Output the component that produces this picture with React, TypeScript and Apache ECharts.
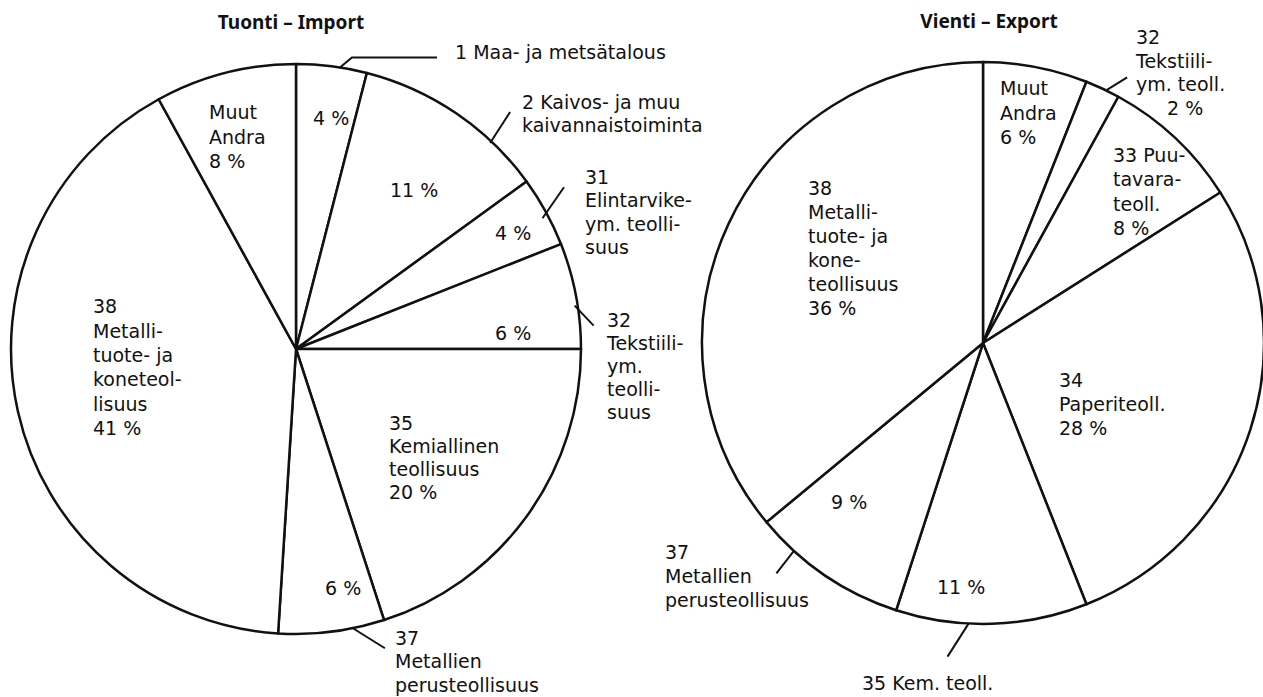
import React, { useEffect, useRef } from "react";
import * as echarts from "echarts";

// ---------- data ----------
const importCategories = [
  "1 Maa- ja metsätalous",
  "2 Kaivos- ja muu kaivannaistoiminta",
  "31 Elintarvike- ym. teollisuus",
  "32 Tekstiili- ym. teollisuus",
  "35 Kemiallinen teollisuus",
  "37 Metallien perusteollisuus",
  "38 Metallituote- ja koneteollisuus",
  "Muut Andra",
];
const importValues = [4, 11, 4, 6, 20, 6, 41, 8];
// label lines shown inside the slice (before the percentage)
const importInnerHead = [
  "",
  "",
  "",
  "",
  "35\nKemiallinen\nteollisuus",
  "",
  "38\nMetalli-\ntuote- ja\nkoneteol-\nlisuus",
  "Muut\nAndra",
];
// label lines shown outside the pie
const importOuterText = [
  "1 Maa- ja metsätalous",
  "2 Kaivos- ja muu\nkaivannaistoiminta",
  "31\nElintarvike-\nym. teolli-\nsuus",
  "32\nTekstiili-\nym.\nteolli-\nsuus",
  "",
  "37\nMetallien\nperusteollisuus",
  "",
  "",
];
const importPctOutside = [false, false, false, false, false, false, false, false];

const exportCategories = [
  "Muut Andra",
  "32 Tekstiili- ym. teoll.",
  "33 Puutavarateoll.",
  "34 Paperiteoll.",
  "35 Kem. teoll.",
  "37 Metallien perusteollisuus",
  "38 Metallituote- ja koneteollisuus",
];
const exportValues = [6, 2, 8, 28, 11, 9, 36];
const exportInnerHead = [
  "Muut\nAndra",
  "",
  "33 Puu-\ntavara-\nteoll.",
  "34\nPaperiteoll.",
  "",
  "",
  "38\nMetalli-\ntuote- ja\nkone-\nteollisuus",
];
const exportOuterText = [
  "",
  "32\nTekstiili-\nym. teoll.",
  "",
  "",
  "35 Kem. teoll.",
  "37\nMetallien\nperusteollisuus",
  "",
];
const exportPctOutside = [false, true, false, false, false, false, false];

// ---------- layout (positions only) ----------
const FONT = "'DejaVu Sans', 'Noto Sans', sans-serif";
const TITLE_FONT = "'Noto Sans', 'DejaVu Sans', sans-serif";
const FONT_SIZE = 19;
const IMPORT_CENTER = [296, 349];
const IMPORT_R = 285;
const EXPORT_CENTER = [983, 343];
const EXPORT_R = 281;

// [x, top, lineHeight]
const importInnerPos: (number[] | null)[] = [
  [313, 106.5, 23],
  [390, 178.5, 23],
  [495, 221.5, 23],
  [495, 321.5, 23],
  [389, 411.5, 23],
  [325, 576.5, 23],
  [93, 294, 24.4],
  [209, 100, 24.5],
];
const importOuterPos: (number[] | null)[] = [
  [455, 40.5, 23],
  [522, 90.5, 23.2],
  [585, 165.5, 23.3],
  [607, 308.5, 23],
  null,
  [395, 626, 23.5],
  null,
  null,
];
const exportInnerPos: (number[] | null)[] = [
  [1000, 76, 24.5],
  null,
  [1113, 143, 24.3],
  [1059, 368, 24],
  [937, 575.5, 23],
  [831, 490.5, 23],
  [808, 176, 24],
];
const exportOuterPos: (number[] | null)[] = [
  null,
  [1136, 25, 23.7],
  null,
  null,
  [862, 671.5, 23],
  [665, 540, 24],
  null,
];

// leader lines: slice index, fraction within slice, radial shift, offsets of following points
const importLeaders = [
  { idx: 0, t: 0.616, dr: 0, pts: [[12, -10], [97, -10]] },
  { idx: 1, t: 0.73, dr: -2, pts: [[20, -31]] },
  { idx: 2, t: 0.56, dr: -6, pts: [[21.5, -31]] },
  { idx: 3, t: 0.59, dr: -3, pts: [[19, 20]] },
  { idx: 5, t: 0.3, dr: 0, pts: [[32, 20]] },
];
const exportLeaders = [
  { idx: 1, t: 0.61, dr: 0, pts: [[21, -13]] },
  { idx: 4, t: 0.62, dr: 0, pts: [[-21, 33]] },
  { idx: 5, t: 0.75, dr: 0, pts: [[-17.5, 22.5]] },
];

function pct(v: number) {
  return v + " %";
}

function innerTexts(head: string[], values: number[], pctOut: boolean[]) {
  return values.map((v, i) => {
    if (pctOut[i]) return head[i];
    return head[i] ? head[i] + "\n" + pct(v) : pct(v);
  });
}
function outerTexts(text: string[], values: number[], pctOut: boolean[]) {
  return values.map((v, i) => {
    if (pctOut[i]) return text[i] + "\n{ind|" + pct(v) + "}";
    return text[i];
  });
}

function makePies(
  id: string,
  categories: string[],
  values: number[],
  inner: string[],
  outer: string[],
  innerPos: (number[] | null)[],
  outerPos: (number[] | null)[],
  center: number[],
  r: number
) {
  const labelBase = {
    show: true,
    position: "inside",
    color: "#111",
    fontFamily: FONT,
    fontSize: FONT_SIZE,
    lineHeight: 23,
  };
  const mkData = (pos: (number[] | null)[]) =>
    categories.map((name, i) => ({
      name,
      value: values[i],
      label: { lineHeight: pos[i] ? pos[i]![2] : 23 },
    }));
  const mkLayout = (pos: (number[] | null)[]) => (params: any) => {
    const p = pos[params.dataIndex];
    if (!p) return {};
    return { x: p[0], y: p[1], align: "left", verticalAlign: "top" };
  };
  return [
    {
      id: id + "-slices",
      type: "pie",
      center,
      radius: r,
      startAngle: 90,
      clockwise: true,
      silent: true,
      avoidLabelOverlap: false,
      itemStyle: { color: "#fff", borderColor: "#111", borderWidth: 2.5 },
      label: { ...labelBase, formatter: (p: any) => inner[p.dataIndex] },
      labelLine: { show: false },
      labelLayout: mkLayout(innerPos),
      emphasis: { disabled: true },
      data: mkData(innerPos),
    },
    {
      id: id + "-outer",
      type: "pie",
      center,
      radius: r,
      startAngle: 90,
      clockwise: true,
      silent: true,
      z: 3,
      avoidLabelOverlap: false,
      itemStyle: { color: "rgba(0,0,0,0)", borderWidth: 0 },
      label: {
        ...labelBase,
        formatter: (p: any) => outer[p.dataIndex],
        rich: {
          ind: { padding: [0, 0, 0, 31], fontSize: FONT_SIZE, fontFamily: FONT, color: "#111" },
        },
      },
      labelLine: { show: false },
      labelLayout: mkLayout(outerPos),
      emphasis: { disabled: true },
      data: mkData(outerPos),
    },
  ];
}

function leaderGraphics(values: number[], leaders: any[], center: number[], r: number) {
  const total = values.reduce((a, b) => a + b, 0);
  return leaders.map((ld) => {
    const start = (values.slice(0, ld.idx).reduce((a, b) => a + b, 0) / total) * 360;
    const sweep = (values[ld.idx] / total) * 360;
    const deg = start + ld.t * sweep;
    const a = (deg * Math.PI) / 180;
    const rr = r + ld.dr;
    const p0 = [center[0] + rr * Math.sin(a), center[1] - rr * Math.cos(a)];
    const points = [p0, ...ld.pts.map((o: number[]) => [p0[0] + o[0], p0[1] + o[1]])];
    return {
      type: "polyline",
      silent: true,
      z: 10,
      shape: { points },
      style: { stroke: "#111", lineWidth: 2, fill: null },
    };
  });
}

export default function App() {
  const ref = useRef<HTMLDivElement>(null);
  useEffect(() => {
    if (!ref.current) return;
    const chart = echarts.init(ref.current, undefined, { renderer: "svg" });
    const series = [
      ...makePies(
        "import",
        importCategories,
        importValues,
        innerTexts(importInnerHead, importValues, importPctOutside),
        outerTexts(importOuterText, importValues, importPctOutside),
        importInnerPos,
        importOuterPos,
        IMPORT_CENTER,
        IMPORT_R
      ),
      ...makePies(
        "export",
        exportCategories,
        exportValues,
        innerTexts(exportInnerHead, exportValues, exportPctOutside),
        outerTexts(exportOuterText, exportValues, exportPctOutside),
        exportInnerPos,
        exportOuterPos,
        EXPORT_CENTER,
        EXPORT_R
      ),
    ];
    chart.setOption({
      animation: false,
      backgroundColor: "#fff",
      title: [
        {
          text: "Tuonti – Import",
          left: 291,
          top: 12,
          textAlign: "center",
          padding: 0,
          textStyle: { fontFamily: TITLE_FONT, fontSize: 19, fontWeight: "bold", color: "#111" },
        },
        {
          text: "Vienti – Export",
          left: 989,
          top: 11,
          textAlign: "center",
          padding: 0,
          textStyle: { fontFamily: TITLE_FONT, fontSize: 19, fontWeight: "bold", color: "#111" },
        },
      ],
      tooltip: { show: false },
      legend: { show: false },
      series,
      graphic: [
        ...leaderGraphics(importValues, importLeaders, IMPORT_CENTER, IMPORT_R),
        ...leaderGraphics(exportValues, exportLeaders, EXPORT_CENTER, EXPORT_R),
      ],
    });
    return () => chart.dispose();
  }, []);
  return (
    <div
      ref={ref}
      style={{ position: "absolute", left: 0, top: 0, width: 1263, height: 697, background: "#fff" }}
    />
  );
}
